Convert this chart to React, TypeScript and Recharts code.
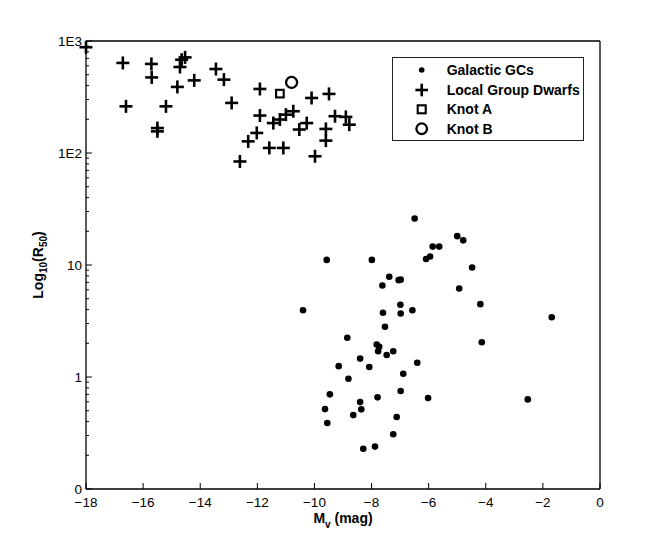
import React from 'react';
import { ScatterChart, Scatter, XAxis, YAxis, Legend } from 'recharts';

// ---- data ----
const gcMv = [-6.49, -9.57, -7.99, -5.86, -5.63, -6.09, -5.95, -7.38, -7.62, -7.05, -6.98, -10.4, -7.6, -6.99, -6.98, -6.57, -7.53, -8.85, -5.0, -4.79, -4.48, -4.93, -4.19, -1.69, -4.14, -6.02, -2.53, -7.82, -7.73, -7.77, -7.24, -7.47, -8.4, -6.4, -9.15, -8.08, -6.89, -8.81, -9.46, -6.98, -7.79, -8.4, -9.63, -8.36, -8.64, -7.12, -9.55, -7.24, -8.29, -7.88];
const gcR50 = [26.0, 11.1, 11.1, 14.6, 14.6, 11.3, 11.9, 7.85, 6.56, 7.32, 7.4, 3.95, 3.75, 4.42, 3.69, 3.95, 2.81, 2.24, 18.1, 16.6, 9.5, 6.17, 4.47, 3.42, 2.04, 0.648, 0.631, 1.95, 1.86, 1.7, 1.7, 1.57, 1.46, 1.34, 1.25, 1.23, 1.07, 0.966, 0.7, 0.749, 0.658, 0.597, 0.517, 0.514, 0.457, 0.439, 0.388, 0.308, 0.229, 0.239];

const dwarfMv = [-18.0, -16.71, -16.6, -15.71, -15.7, -15.5, -15.5, -15.2, -14.8, -14.71, -14.65, -14.53, -14.21, -13.45, -13.17, -12.9, -12.61, -11.91, -11.91, -11.44, -12.02, -12.32, -11.58, -11.09, -11.21, -11.0, -10.74, -10.1, -9.49, -10.27, -10.53, -9.6, -9.6, -9.28, -8.9, -8.78, -9.98];
const dwarfR50 = [880, 637, 261, 624, 473, 167, 156, 261, 389, 586, 681, 714, 445, 562, 452, 280, 84, 373, 216, 185, 151, 127, 111, 111, 199, 220, 236, 310, 337, 185, 162, 164, 129, 213, 210, 179, 93.5];

const knotAMv = [-11.21];
const knotAR50 = [339];
const knotBMv = [-10.8];
const knotBR50 = [427];

const seriesNames = ['Galactic GCs', 'Local Group Dwarfs', 'Knot A', 'Knot B'];

const xTicks = [-18, -16, -14, -12, -10, -8, -6, -4, -2, 0];
const yMajorTicks = [0.1, 1, 10, 100, 1000];
const yTickLabels = ['0', '1', '10', '1E2', '1E3'];
const yMinorMultipliers = [2, 3, 4, 5, 6, 7, 8, 9];

const xAxisTitle = 'M';
const xAxisSub = 'v';
const xAxisRest = ' (mag)';

// ---- helpers ----
const toPoints = (xs: number[], ys: number[]) => xs.map((x, i) => ({ x, y: ys[i] }));
const gcData = toPoints(gcMv, gcR50);
const dwarfData = toPoints(dwarfMv, dwarfR50);
const knotAData = toPoints(knotAMv, knotAR50);
const knotBData = toPoints(knotBMv, knotBR50);

const yTicks: number[] = [];
yMajorTicks.forEach((m, i) => {
  yTicks.push(m);
  if (i < yMajorTicks.length - 1) yMinorMultipliers.forEach((k) => yTicks.push(+(m * k).toPrecision(6)));
});

const isMajor = (v: number) => yMajorTicks.some((m) => Math.abs(m - v) < 1e-9);
const yLabel = (v: number) => {
  const i = yMajorTicks.findIndex((m) => Math.abs(m - v) < 1e-9);
  return i >= 0 ? yTickLabels[i] : '';
};
const fmtX = (v: number) => (v < 0 ? '\u2212' + Math.abs(v) : String(v));

const FONT = '"Liberation Sans", Arial, Helvetica, sans-serif';
const INK = '#000';
const MAJ = 6;
const MIN = 3;

// ---- shapes ----
const DotShape = (p: any) => <circle cx={p.cx} cy={p.cy} r={3.3} fill={INK} />;
const CrossShape = (p: any) => (
  <g stroke={INK} strokeWidth={2.6}>
    <line x1={p.cx - 6.5} y1={p.cy} x2={p.cx + 6.5} y2={p.cy} />
    <line x1={p.cx} y1={p.cy - 6.5} x2={p.cx} y2={p.cy + 6.5} />
  </g>
);
const SquareShape = (p: any) => (
  <rect x={p.cx - 3.8} y={p.cy - 3.8} width={7.6} height={7.6} fill="none" stroke={INK} strokeWidth={2.1} />
);
const CircleShape = (p: any) => <circle cx={p.cx} cy={p.cy} r={5.5} fill="none" stroke={INK} strokeWidth={2.3} />;

// ---- ticks ----
const BottomTick = (p: any) => (
  <g>
    <line x1={p.x} y1={p.y} x2={p.x} y2={p.y - MAJ} stroke={INK} strokeWidth={1} />
    <text x={p.x} y={p.y + 18} textAnchor="middle" fontFamily={FONT} fontSize={13.5} fill={INK}>
      {fmtX(p.payload.value)}
    </text>
  </g>
);
const TopTick = (p: any) => (
  <line x1={p.x} y1={p.y} x2={p.x} y2={p.y + MAJ} stroke={INK} strokeWidth={1} />
);
const LeftTick = (p: any) => {
  const v = p.payload.value;
  const major = isMajor(v);
  return (
    <g>
      <line x1={p.x} y1={p.y} x2={p.x + (major ? MAJ : MIN)} y2={p.y} stroke={INK} strokeWidth={1} />
      {major && (
        <text x={p.x - 4} y={p.y + 4.5} textAnchor="end" fontFamily={FONT} fontSize={13.5} fill={INK}>
          {yLabel(v)}
        </text>
      )}
    </g>
  );
};
const RightTick = (p: any) => {
  const major = isMajor(p.payload.value);
  return <line x1={p.x} y1={p.y} x2={p.x - (major ? MAJ : MIN)} y2={p.y} stroke={INK} strokeWidth={1} />;
};

// ---- axis titles ----
const XTitle = (props: any) => {
  const vb = props.viewBox;
  const cx = vb.x + vb.width / 2;
  return (
    <text x={cx} y={vb.y + 34} textAnchor="middle" fontFamily={FONT} fontSize={14} fontWeight="bold" fill={INK}>
      <tspan>{xAxisTitle}</tspan>
      <tspan dy={5} fontSize={10}>{xAxisSub}</tspan>
      <tspan dy={-5}>{xAxisRest}</tspan>
    </text>
  );
};
const YTitle = (props: any) => {
  const vb = props.viewBox;
  const cx = vb.x + 42.7;
  const cy = vb.y + vb.height / 2;
  return (
    <text
      x={cx}
      y={cy}
      transform={`rotate(-90 ${cx} ${cy})`}
      textAnchor="middle"
      fontFamily={FONT}
      fontSize={14}
      fontWeight="bold"
      fill={INK}
    >
      <tspan>Log</tspan>
      <tspan dy={4} fontSize={10}>10</tspan>
      <tspan dy={-4}>(R</tspan>
      <tspan dy={4} fontSize={10}>50</tspan>
      <tspan dy={-4}>)</tspan>
    </text>
  );
};

// ---- legend ----
const legendMarkers = [
  (x: number, y: number) => <circle cx={x} cy={y} r={2.8} fill={INK} />,
  (x: number, y: number) => (
    <g stroke={INK} strokeWidth={2.6}>
      <line x1={x - 6.3} y1={y} x2={x + 6.3} y2={y} />
      <line x1={x} y1={y - 6.3} x2={x} y2={y + 6.3} />
    </g>
  ),
  (x: number, y: number) => (
    <rect x={x - 4} y={y - 4} width={8} height={8} fill="none" stroke={INK} strokeWidth={2.1} />
  ),
  (x: number, y: number) => <circle cx={x} cy={y} r={5.3} fill="none" stroke={INK} strokeWidth={2.3} />,
];
const legendRows = [13, 33, 52.3, 71.7];

const LegendBox = () => (
  <svg width={192} height={84} style={{ display: 'block' }}>
    <rect x={0.5} y={0.5} width={191} height={83} fill="#fff" stroke="#222" strokeWidth={1} />
    {seriesNames.map((name, i) => (
      <g key={name}>
        {legendMarkers[i](29.7, legendRows[i])}
        <text x={54.7} y={legendRows[i] + 5} fontFamily={FONT} fontSize={14} fontWeight="bold" fill={INK}>
          {name}
        </text>
      </g>
    ))}
  </svg>
);

export default function App() {
  return (
    <div style={{ position: 'absolute', left: 0, top: 0, width: 663, height: 552, background: '#fff' }}>
      <ScatterChart width={663} height={552} margin={{ top: 36, right: 0, bottom: 0, left: 0 }}>
        <XAxis
          xAxisId="b"
          dataKey="x"
          type="number"
          orientation="bottom"
          domain={[-18, 0]}
          ticks={xTicks}
          interval={0}
          height={63}
          tickSize={0}
          tickMargin={0}
          tickLine={false}
          tick={<BottomTick />}
          axisLine={{ stroke: INK, strokeWidth: 1.3 }}
          label={(p: any) => <XTitle {...p} />}
        />
        <XAxis
          xAxisId="t"
          dataKey="x"
          type="number"
          orientation="top"
          domain={[-18, 0]}
          ticks={xTicks}
          interval={0}
          height={5}
          tickSize={0}
          tickMargin={0}
          tickLine={false}
          tick={<TopTick />}
          axisLine={{ stroke: INK, strokeWidth: 1.3 }}
        />
        <YAxis
          yAxisId="l"
          dataKey="y"
          type="number"
          scale="log"
          orientation="left"
          domain={[0.1, 1000]}
          ticks={yTicks}
          interval={0}
          width={86}
          tickSize={0}
          tickMargin={0}
          tickLine={false}
          tick={<LeftTick />}
          axisLine={{ stroke: INK, strokeWidth: 1.3 }}
          label={(p: any) => <YTitle {...p} />}
        />
        <YAxis
          yAxisId="r"
          dataKey="y"
          type="number"
          scale="log"
          orientation="right"
          domain={[0.1, 1000]}
          ticks={yTicks}
          interval={0}
          width={63}
          tickSize={0}
          tickMargin={0}
          tickLine={false}
          tick={<RightTick />}
          axisLine={{ stroke: INK, strokeWidth: 1.3 }}
        />
        <Legend
          layout="vertical"
          align="center"
          verticalAlign="middle"
          content={() => <LegendBox />}
          wrapperStyle={{ left: 392, top: 57, width: 192, height: 84 }}
        />
        <Scatter name={seriesNames[0]} data={gcData} xAxisId="b" yAxisId="l" shape={DotShape} isAnimationActive={false} />
        <Scatter name={seriesNames[1]} data={dwarfData} xAxisId="b" yAxisId="l" shape={CrossShape} isAnimationActive={false} />
        <Scatter name={seriesNames[2]} data={knotAData} xAxisId="b" yAxisId="l" shape={SquareShape} isAnimationActive={false} />
        <Scatter name={seriesNames[3]} data={knotBData} xAxisId="b" yAxisId="l" shape={CircleShape} isAnimationActive={false} />
      </ScatterChart>
    </div>
  );
}
